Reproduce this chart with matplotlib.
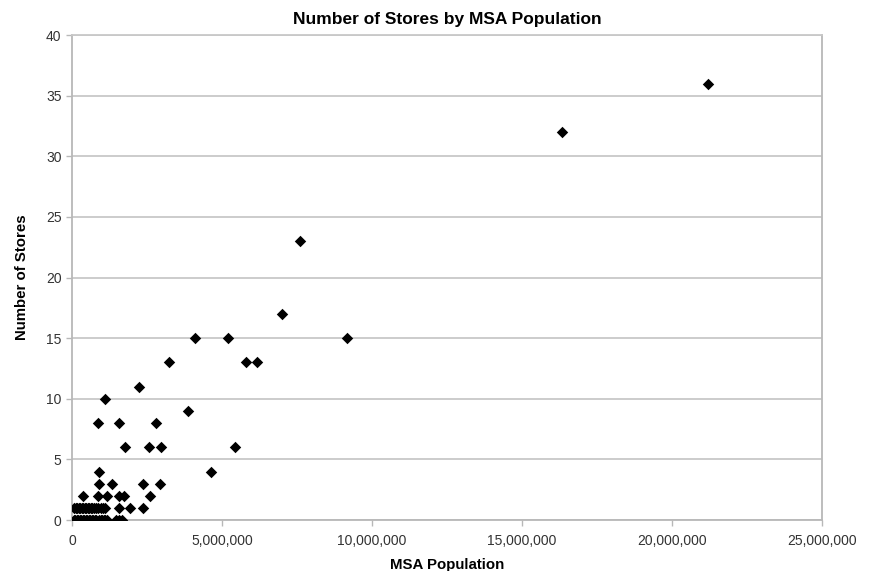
import matplotlib
matplotlib.use("Agg")
import matplotlib.pyplot as plt
from matplotlib.ticker import FuncFormatter, MultipleLocator

plt.rcParams['font.family'] = ['Liberation Sans', 'DejaVu Sans']

# MSA population (people) and number of stores
population = [
    # 0 stores
    50000, 100000, 150000, 200000, 250000, 300000, 350000, 400000, 450000,
    500000, 550000, 600000, 650000, 700000, 750000, 800000, 900000, 950000,
    1000000, 1050000, 1100000, 1150000, 1450000, 1550000, 1680000,
    # 1 store
    80000, 130000, 180000, 230000, 280000, 330000, 380000, 430000, 480000,
    530000, 580000, 630000, 680000, 730000, 800000, 870000, 950000, 1020000,
    1100000, 1550000, 1920000, 2350000,
    # 2 stores
    380000, 850000, 1180000, 1560000, 1730000, 2590000,
    # 3 stores
    890000, 1320000, 2380000, 2940000,
    # 4 stores
    890000, 4630000,
    # 6 stores
    1780000, 2560000, 2950000, 5430000,
    # 8 stores
    860000, 1550000, 2800000,
    # 9..36
    3860000, 1110000, 2230000, 3230000, 5790000, 6170000,
    4100000, 5190000, 9160000, 7000000, 7600000, 16330000, 21200000,
]
stores = (
    [0] * 25 + [1] * 22 + [2] * 6 + [3] * 4 + [4] * 2 + [6] * 4 + [8] * 3
    + [9, 10, 11, 13, 13, 13, 15, 15, 15, 17, 23, 32, 36]
)

fig = plt.figure(figsize=(8.69, 5.71), dpi=100)
ax = fig.add_axes([0.0829, 0.0893, 0.8630, 0.8494])

ax.scatter(population, stores, marker='D', s=34, color='black', zorder=3,
           linewidths=0)

ax.set_xlim(0, 25000000)
ax.set_ylim(0, 40)
ax.xaxis.set_major_locator(MultipleLocator(5000000))
ax.yaxis.set_major_locator(MultipleLocator(5))
ax.xaxis.set_major_formatter(FuncFormatter(lambda v, p: f"{int(v):,}"))

ax.grid(axis='y', color='#c8c8c8', linewidth=1.3, zorder=0)
for s in ax.spines.values():
    s.set_color('#b8b8b8')
    s.set_linewidth(1.3)
ax.spines['top'].set_color('#c8c8c8')

ax.tick_params(axis='both', colors='#b8b8b8', labelcolor='#333333',
               labelsize=10, length=4, width=1)
ax.tick_params(axis='x', pad=6)

ax.set_title("Number of Stores by MSA Population", fontsize=12.5,
             fontweight='bold', pad=8)
ax.set_xlabel("MSA Population", fontsize=10.8, fontweight='bold', labelpad=7)
ax.set_ylabel("Number of Stores", fontsize=10.8, fontweight='bold', labelpad=12)

fig.savefig("out.png", dpi=100)
